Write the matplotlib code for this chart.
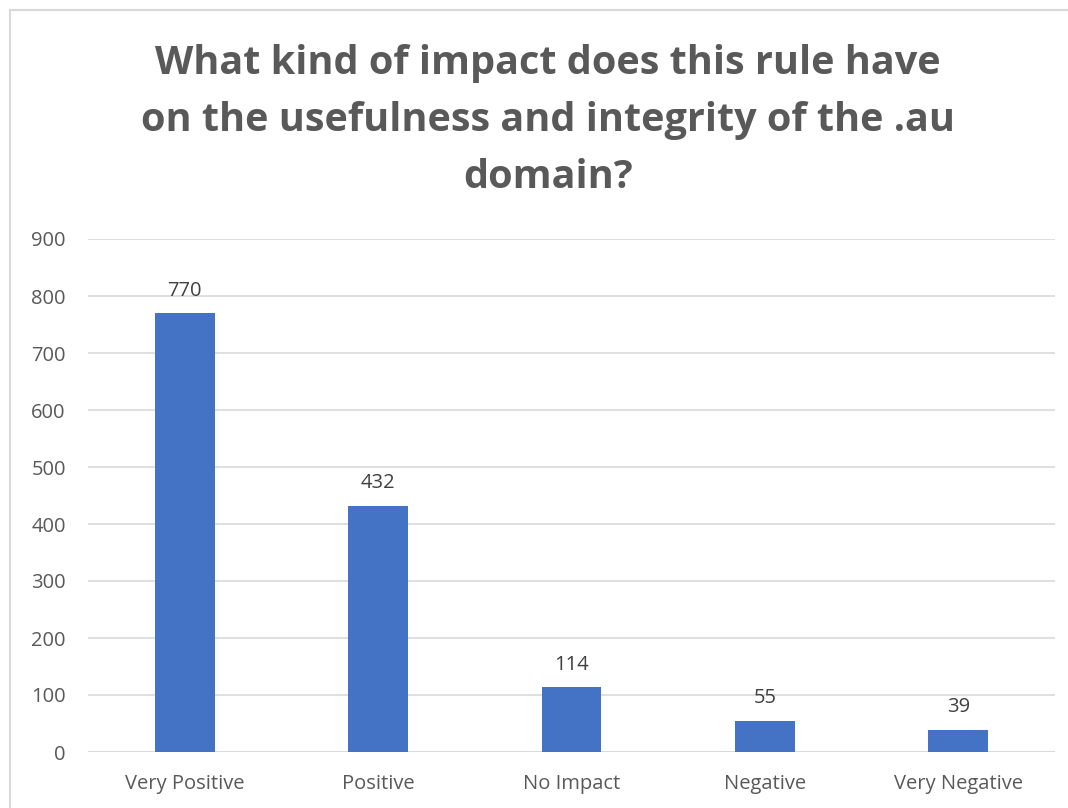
import matplotlib
matplotlib.use("Agg")
import matplotlib.pyplot as plt
from matplotlib.patches import Rectangle

categories = ["Very Positive", "Positive", "No Impact", "Negative", "Very Negative"]
values = [770, 432, 114, 55, 39]
yticks = [0, 100, 200, 300, 400, 500, 600, 700, 800, 900]
title = "What kind of impact does this rule have\non the usefulness and integrity of the .au\ndomain?"

W, H = 1068, 808
fig = plt.figure(figsize=(W / 100, H / 100), dpi=100)
plt.rcParams['font.family'] = ['Open Sans', 'DejaVu Sans']

# outer chart border (cropped on right/bottom)
fig.patches.append(Rectangle((10 / W, -0.01), 1.2, 1 - 10 / H + 0.01, transform=fig.transFigure,
                             fill=False, edgecolor="#d9d9d9", linewidth=1.5))

ax = fig.add_axes([88 / W, 1 - 752 / H, (1055 - 88) / W, (752 - 239) / H])
x = range(len(categories))
ax.bar(x, values, width=0.31, color="#4472C4", zorder=3)
for i, v in zip(x, values):
    ax.annotate(str(v), (i, v), xytext=(0, 9), textcoords="offset points",
                ha="center", va="bottom", fontsize=14.5, color="#404040")

ax.set_xlim(-0.5, len(categories) - 0.5)
ax.set_ylim(0, 900)
ax.set_yticks(yticks)
ax.set_xticks(list(x))
ax.set_xticklabels(categories)
ax.tick_params(axis="both", length=0, labelsize=14.5, labelcolor="#595959")
ax.tick_params(axis="y", pad=16)
ax.tick_params(axis="x", pad=16)
for s in ax.spines.values():
    s.set_visible(False)
ax.grid(axis="y", color="#d9d9d9", linewidth=1.2, zorder=0)
ax.axhline(0, color="#d9d9d9", linewidth=1.2, zorder=1)

fig.text(0.513, 1 - 44 / H, title, ha="center", va="top", fontsize=28.5, fontweight="bold",
         color="#595959", linespacing=1.6)

fig.savefig("out.png", dpi=100)
